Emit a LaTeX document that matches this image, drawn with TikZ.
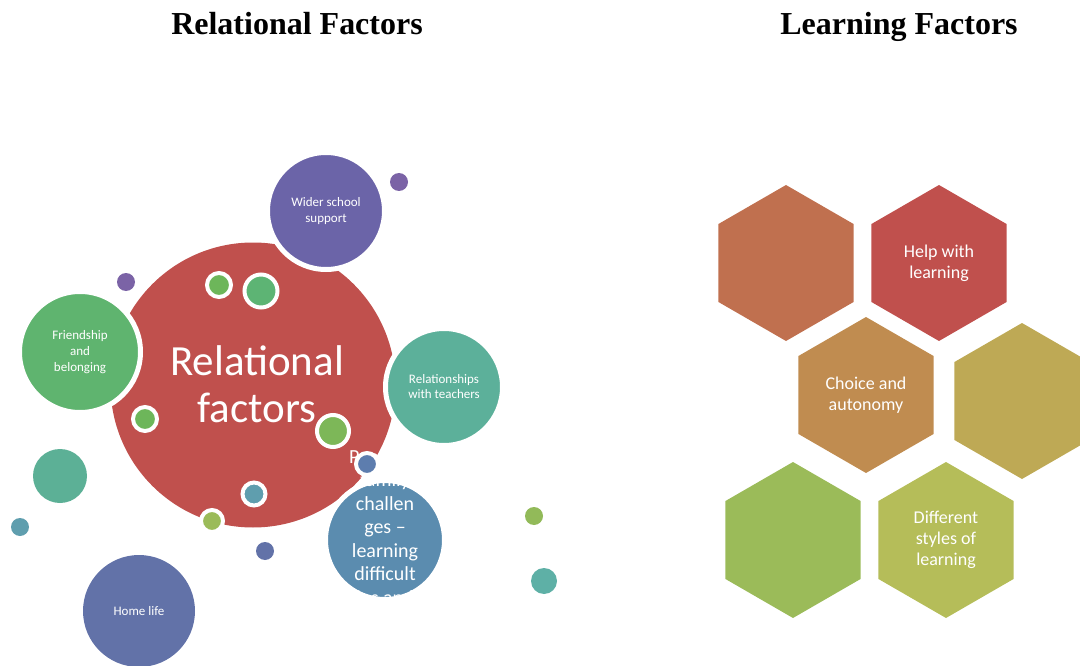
\documentclass[tikz,border=0pt]{standalone}
\usepackage{fontspec}
\setmainfont{Carlito}
\newfontfamily\titlefont{Liberation Serif}
\usetikzlibrary{shapes.geometric}

\definecolor{relred}{HTML}{C0504D}
\definecolor{widerpurple}{HTML}{6B64A8}
\definecolor{friendgreen}{HTML}{5FB46F}
\definecolor{teachteal}{HTML}{5CB09A}
\definecolor{homeblue}{HTML}{6272A8}
\definecolor{peerblue}{HTML}{5B8CAF}
\definecolor{dotpurple}{HTML}{7B63A6}
\definecolor{dotgreen}{HTML}{6DB65A}
\definecolor{dotmint}{HTML}{5DB474}
\definecolor{dotlime}{HTML}{7DB758}
\definecolor{dotolive}{HTML}{9BBB59}
\definecolor{dotteal}{HTML}{5F9EAE}
\definecolor{dotblue}{HTML}{5D7DAE}
\definecolor{dotsea}{HTML}{5EB0A6}
\definecolor{hexorange}{HTML}{C0704F}
\definecolor{hexred}{HTML}{C0504D}
\definecolor{hexochre}{HTML}{C08C50}
\definecolor{hexmustard}{HTML}{BEA955}
\definecolor{hexgreen}{HTML}{9BBB59}
\definecolor{hexlime}{HTML}{B5BD59}

\tikzset{
	bubble/.style={circle, inner sep=0pt, text=white, align=center},
	ringed/.style={draw=white, line width=5pt},
	dotring/.style={circle, inner sep=0pt, draw=white, line width=4pt},
	dot/.style={circle, inner sep=0pt},
	hexa/.style={regular polygon, regular polygon sides=6, shape border rotate=30,
		minimum size=156pt, inner sep=0pt, text=white, align=center,
		font=\fontsize{18}{21}\selectfont},
	heading/.style={font=\titlefont\bfseries\fontsize{32}{36}\selectfont, anchor=base}
}

\begin{document}
\begin{tikzpicture}[x=1pt,y=-1pt]
	\useasboundingbox (0,0) rectangle (1080,666);

	% titles
	\node[heading] (reltitle) at (297,35) {Relational Factors};
	\node[heading] (learntitle) at (899,35) {Learning Factors};

	% relational factors
	\node[bubble, fill=relred, minimum size=285pt] (relational) at (253,385) {};
	\node[text=white, align=center, font=\fontsize{43}{47}\selectfont] (reltext) at (257,384) {Relational\\factors};
	\node[bubble, ringed, fill=widerpurple, minimum size=117pt, font=\fontsize{13}{15.5}\selectfont] (wider) at (326,211) {Wider school\\support};
	\node[bubble, ringed, fill=friendgreen, minimum size=121pt, font=\fontsize{13}{16}\selectfont] (friend) at (80,352) {Friendship\\and\\belonging};
	\node[bubble, ringed, fill=teachteal, minimum size=117pt, font=\fontsize{13}{15}\selectfont] (teachers) at (444,387) {Relationships\\with teachers};
	\node[bubble, ringed, fill=peerblue, minimum size=119pt] (peer) at (385,540) {};
	\node[text=white, align=center, font=\fontsize{20}{23.5}\selectfont] (peertext) at (385,527) {Peer and\\family\\challen\\ges --\\learning\\difficult\\ies and};
	\node[bubble, fill=homeblue, minimum size=112pt, font=\fontsize{13}{15}\selectfont] (home) at (139,611) {Home life};

	% small dots
	\node[dot, fill=dotpurple, minimum size=18pt] (dota) at (399,182) {};
	\node[dot, fill=dotpurple, minimum size=18pt] (dotb) at (126,282) {};
	\node[dotring, fill=dotgreen, minimum size=24pt] (dotc) at (219,285) {};
	\node[dotring, fill=dotmint, minimum size=33pt] (dotd) at (261,291) {};
	\node[dotring, fill=dotgreen, minimum size=24pt] (dote) at (145,419) {};
	\node[dotring, fill=dotlime, minimum size=32pt] (dotf) at (333,431) {};
	\node[dotring, fill=dotblue, minimum size=22pt] (dotg) at (367,464) {};
	\node[dotring, fill=dotteal, minimum size=23pt] (doth) at (254,494) {};
	\node[dotring, fill=dotolive, minimum size=22pt] (doti) at (212,521) {};
	\node[dot, fill=homeblue, minimum size=18pt] (dotj) at (265,551) {};
	\node[dot, fill=teachteal!90!friendgreen, minimum size=54pt] (dotk) at (60,476) {};
	\node[dot, fill=dotteal, minimum size=18pt] (dotl) at (20,527) {};
	\node[dot, fill=dotolive!80!dotgreen, minimum size=18pt] (dotm) at (534,516) {};
	\node[dot, fill=dotsea, minimum size=26pt] (dotn) at (544,581) {};

	% learning factors
	\node[hexa, fill=hexorange] (hexa1) at (786,263) {};
	\node[hexa, fill=hexred] (hexa2) at (939,263) {Help with\\learning};
	\node[hexa, fill=hexochre] (hexa3) at (866,395) {Choice and\\autonomy};
	\node[hexa, fill=hexmustard] (hexa4) at (1022,401) {};
	\node[hexa, fill=hexgreen] (hexa5) at (793,540) {};
	\node[hexa, fill=hexlime] (hexa6) at (946,540) {Different\\styles of\\learning};

\end{tikzpicture}
\end{document}
